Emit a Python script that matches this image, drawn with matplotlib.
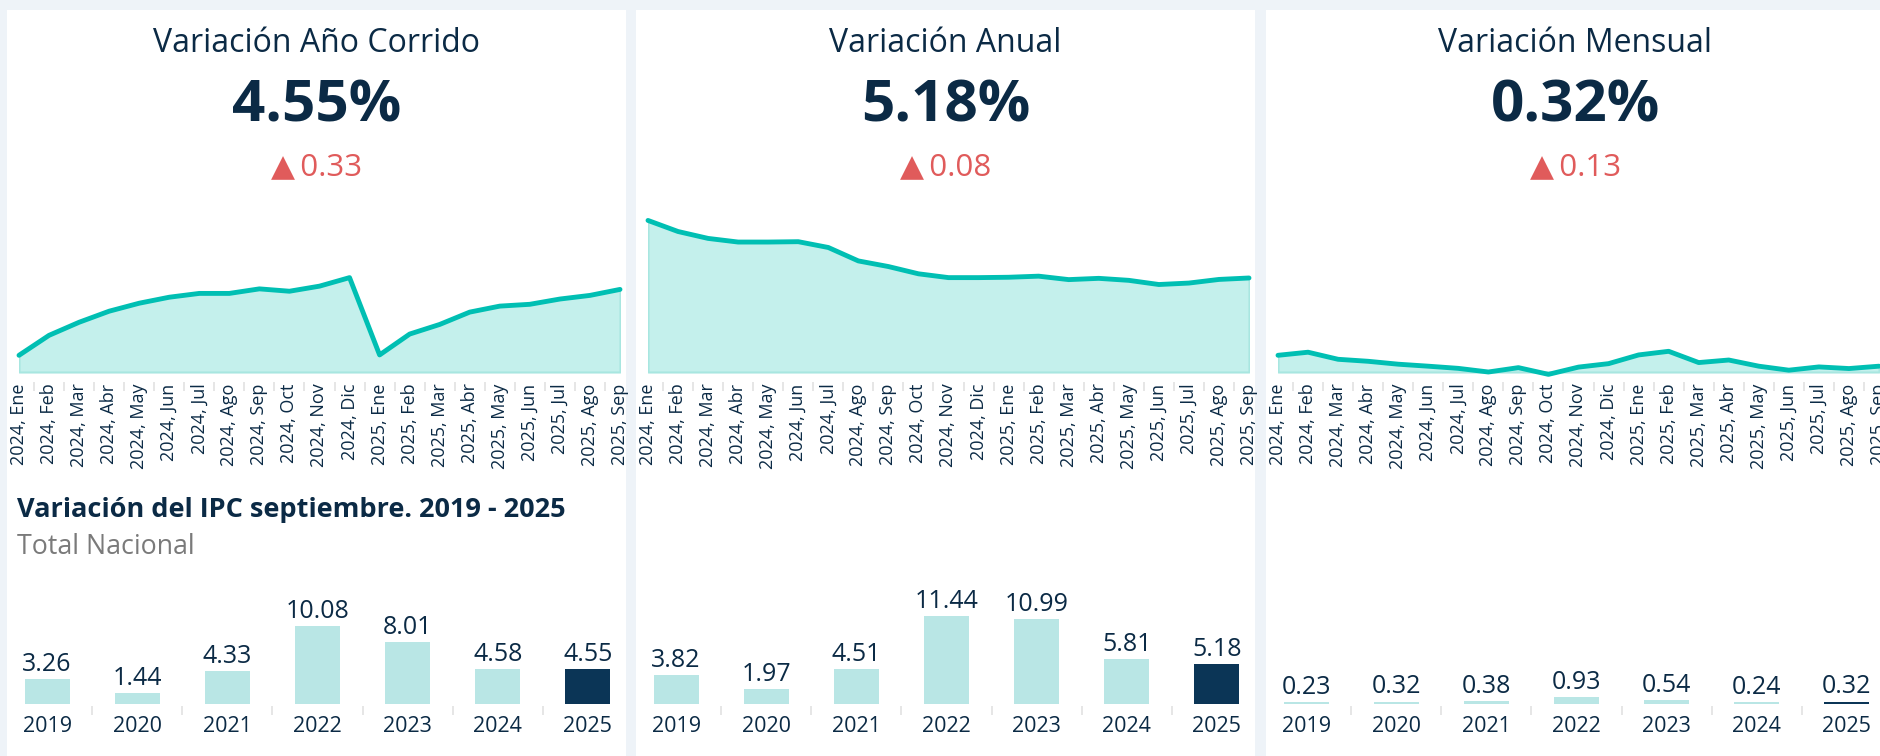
import matplotlib
matplotlib.use("Agg")
import matplotlib.pyplot as plt
from matplotlib.patches import Rectangle
import numpy as np

# ---------------- data ----------------
months = ["2024, Ene", "2024, Feb", "2024, Mar", "2024, Abr", "2024, May", "2024, Jun",
          "2024, Jul", "2024, Ago", "2024, Sep", "2024, Oct", "2024, Nov", "2024, Dic",
          "2025, Ene", "2025, Feb", "2025, Mar", "2025, Abr", "2025, May", "2025, Jun",
          "2025, Jul", "2025, Ago", "2025, Sep"]
var_ano_corrido = [0.92, 2.02, 2.74, 3.35, 3.79, 4.12, 4.33, 4.33, 4.58, 4.45, 4.73, 5.20,
                   0.94, 2.09, 2.62, 3.30, 3.63, 3.73, 4.02, 4.22, 4.55]
var_anual = [8.35, 7.74, 7.36, 7.16, 7.16, 7.18, 6.86, 6.12, 5.81, 5.41, 5.20, 5.20,
             5.22, 5.28, 5.09, 5.16, 5.05, 4.82, 4.90, 5.10, 5.18]
var_mensual = [0.92, 1.09, 0.70, 0.59, 0.43, 0.32, 0.20, 0.00, 0.24, -0.13, 0.27, 0.46,
               0.94, 1.14, 0.52, 0.66, 0.32, 0.10, 0.28, 0.19, 0.32]

years = ["2019", "2020", "2021", "2022", "2023", "2024", "2025"]
sep_ano_corrido = [3.26, 1.44, 4.33, 10.08, 8.01, 4.58, 4.55]
sep_anual = [3.82, 1.97, 4.51, 11.44, 10.99, 5.81, 5.18]
sep_mensual = [0.23, 0.32, 0.38, 0.93, 0.54, 0.24, 0.32]

titles = ["Variación Año Corrido", "Variación Anual", "Variación Mensual"]
headline_values = ["4.55%", "5.18%", "0.32%"]
deltas = ["0.33", "0.08", "0.13"]
bar_title = "Variación del IPC septiembre. 2019 - 2025"
bar_subtitle = "Total Nacional"

line_series = [var_ano_corrido, var_anual, var_mensual]
bar_series = [sep_ano_corrido, sep_anual, sep_mensual]

# ---------------- style ----------------
FONT = ["Open Sans", "DejaVu Sans"]
plt.rcParams["font.family"] = FONT
NAVY = "#0B2A45"
LINE = "#00BFB3"
FILL = "#C4F0EC"
BAR_LIGHT = "#B9E6E5"
BAR_DARK = "#0B3556"
RED = "#E05B5B"
BG = "#EEF3F8"
TICKGRAY = "#E2E2E2"

W, H = 1881, 756
fig = plt.figure(figsize=(W / 100, H / 100), dpi=100, facecolor=BG)


def px_axes(x, y, w, h):
    return fig.add_axes([x / W, 1 - (y + h) / H, w / W, h / H])


panel_lefts = [7, 636, 1266]
panel_w = 619

for i in range(3):
    L = panel_lefts[i]
    fig.patches.append(Rectangle((L / W, 0), panel_w / W, 1 - 10 / H,
                                 transform=fig.transFigure, facecolor="white",
                                 edgecolor="none", zorder=-5))
    cx = (L + panel_w / 2) / W
    fig.text(cx, 1 - 43 / H, titles[i], ha="center", va="center",
             fontsize=23, color=NAVY)
    fig.text(cx, 1 - 107 / H, headline_values[i], ha="center", va="center",
             fontsize=42, fontweight="bold", color=NAVY)
    fig.text(cx, 1 - 167 / H, "▲\u2009" + deltas[i], ha="center", va="center",
             fontsize=22.5, color=RED, family=FONT)

    # ---- line / area chart ----
    scale = 18.15  # px per unit
    zero_y = 372
    ymax, ymin = 9.0, -10 / scale
    top = zero_y - ymax * scale
    ax = px_axes(L + 12, top, 601, 382 - top)
    x = np.arange(len(months))
    y = line_series[i]
    ax.fill_between(x, y, 0, color=FILL, linewidth=1.5, edgecolor="#A8E6E0", zorder=1)
    ax.plot(x, y, color=LINE, linewidth=3.5, solid_capstyle="round",
            solid_joinstyle="round", zorder=3, clip_on=False)
    ax.set_xlim(0, len(months) - 1)
    ax.set_ylim(ymin, ymax)
    ax.set_yticks([])
    ax.set_xticks(x)
    ax.set_xticklabels(months, rotation=90, fontsize=13, color=NAVY)
    ax.set_xticks(np.arange(0.5, len(months) - 1, 1.0), minor=True)
    ax.tick_params(axis="x", which="major", length=0, pad=1)
    ax.tick_params(axis="x", which="minor", length=6.5, width=1.2, color=TICKGRAY)
    for s in ax.spines.values():
        s.set_visible(False)
    ax.patch.set_alpha(0)

    # ---- bar chart ----
    bscale = 7.7
    base_y = 704
    bymax = 14.0
    bbot = 706
    btop = base_y - bymax * bscale
    bax = px_axes(L - 5, btop, 631, bbot - btop)
    bx = np.arange(len(years))
    vals = bar_series[i]
    colors = [BAR_LIGHT] * (len(years) - 1) + [BAR_DARK]
    bars = bax.bar(bx, vals, width=0.5, color=colors, zorder=2)
    for b, v in zip(bars, vals):
        bax.annotate(f"{v:.2f}", (b.get_x() + b.get_width() / 2, v),
                     xytext=(0, 1.5), textcoords="offset points", ha="center",
                     va="bottom", fontsize=18, color=NAVY, annotation_clip=False)
    bax.set_xlim(-0.5, len(years) - 0.5)
    bax.set_ylim(-(bbot - base_y) / bscale, bymax)
    bax.set_yticks([])
    bax.set_xticks(bx)
    bax.set_xticklabels(years, fontsize=15.5, color=NAVY)
    bax.set_xticks(np.arange(0.5, len(years) - 1, 1.0), minor=True)
    bax.tick_params(axis="x", which="major", length=0, pad=7)
    bax.tick_params(axis="x", which="minor", length=6.5, width=1.2, color=TICKGRAY)
    for s in bax.spines.values():
        s.set_visible(False)
    bax.patch.set_alpha(0)

fig.text(17 / W, 1 - 510 / H, bar_title, ha="left", va="center", fontsize=19.5,
         fontweight="bold", color=NAVY)
fig.text(17 / W, 1 - 547 / H, bar_subtitle, ha="left", va="center", fontsize=19.3,
         color="#7A7A7A")

fig.savefig("out.png", dpi=100, facecolor=BG)
